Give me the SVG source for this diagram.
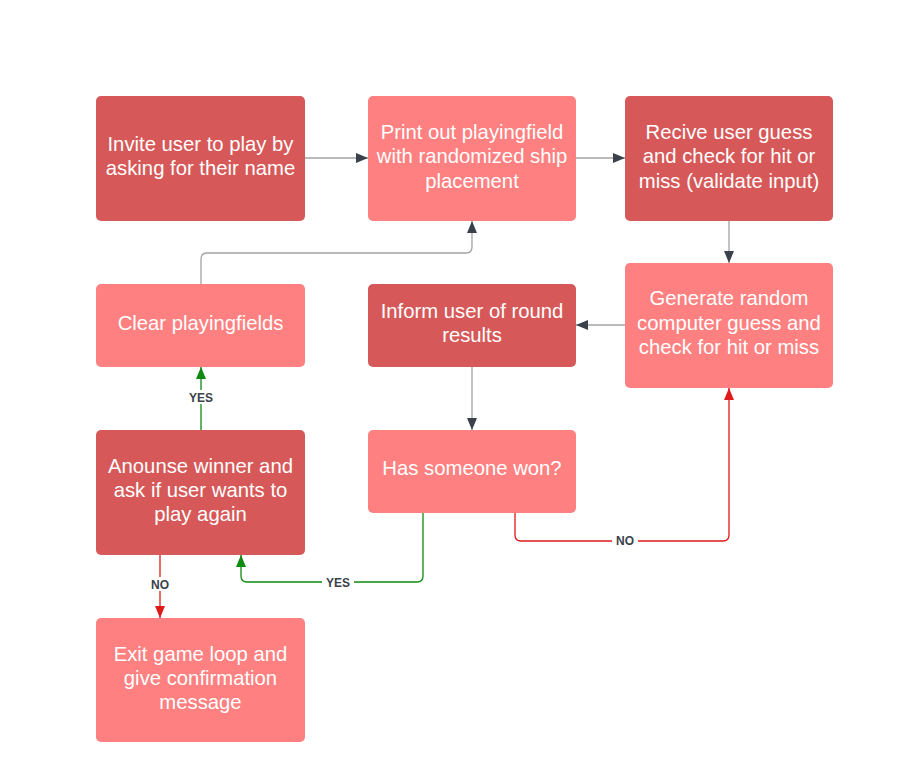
<svg xmlns="http://www.w3.org/2000/svg" width="903" height="772" viewBox="0 0 903 772">
<defs>
<style>
.dark{fill:#d75858}
.light{fill:#ff8080}
.t{font-family:"Liberation Sans",Arial,sans-serif;font-size:20.3px;fill:#ffffff;text-anchor:middle}
.c{fill:none;stroke-width:1.3}
.gray{stroke:#a3a3a3}
.green{stroke:#0e8a0e}
.red{stroke:#e01919}
.lbl{font-family:"Liberation Sans",Arial,sans-serif;font-size:12px;font-weight:bold;fill:#3a414a;text-anchor:middle}
</style>
<marker id="ag" viewBox="0 0 12 10" refX="12" refY="5" markerWidth="12" markerHeight="10" markerUnits="userSpaceOnUse" orient="auto"><path d="M0,0L12,5L0,10z" fill="#3a414a"/></marker>
<marker id="agr" viewBox="0 0 12 10" refX="12" refY="5" markerWidth="12" markerHeight="10" markerUnits="userSpaceOnUse" orient="auto"><path d="M0,0L12,5L0,10z" fill="#0e8a0e"/></marker>
<marker id="ar" viewBox="0 0 12 10" refX="12" refY="5" markerWidth="12" markerHeight="10" markerUnits="userSpaceOnUse" orient="auto"><path d="M0,0L12,5L0,10z" fill="#e01919"/></marker>
</defs>
<rect width="903" height="772" fill="#ffffff"/>
<g id="connectors">
<path class="c gray" d="M305,158H368" marker-end="url(#ag)"/>
<path class="c gray" d="M576,158H625" marker-end="url(#ag)"/>
<path class="c gray" d="M729,221V263" marker-end="url(#ag)"/>
<path class="c gray" d="M625,325H576" marker-end="url(#ag)"/>
<path class="c gray" d="M472,367V430" marker-end="url(#ag)"/>
<path class="c gray" d="M201,284V259Q201,253 207,253H466Q472,253 472,247V221" marker-end="url(#ag)"/>
<path class="c red" d="M515,513V535Q515,541 521,541H723Q729,541 729,535V388" marker-end="url(#ar)"/>
<rect x="612" y="533" width="26" height="14" fill="#ffffff"/>
<text class="lbl" x="625" y="544.5">NO</text>
<path class="c green" d="M423,513V576Q423,582 417,582H247Q241,582 241,576V555" marker-end="url(#agr)"/>
<rect x="322" y="575" width="32" height="14" fill="#ffffff"/>
<text class="lbl" x="338" y="586.5">YES</text>
<path class="c green" d="M201,430V367" marker-end="url(#agr)"/>
<rect x="185" y="390" width="32" height="14" fill="#ffffff"/>
<text class="lbl" x="201" y="401.5">YES</text>
<path class="c red" d="M160,555V618" marker-end="url(#ar)"/>
<rect x="147" y="577" width="26" height="14" fill="#ffffff"/>
<text class="lbl" x="160" y="588.5">NO</text>
</g>
<g id="invite">
<rect class="dark" x="96" y="96" width="209" height="125" rx="5"/>
<text class="t" x="200.5" y="151">Invite user to play by</text>
<text class="t" x="200.5" y="175">asking for their name</text>
</g>
<g id="print">
<rect class="light" x="368" y="96" width="208" height="125" rx="5"/>
<text class="t" x="472" y="139">Print out playingfield</text>
<text class="t" x="472" y="163">with randomized ship</text>
<text class="t" x="472" y="188">placement</text>
</g>
<g id="recive">
<rect class="dark" x="625" y="96" width="208" height="125" rx="5"/>
<text class="t" x="729" y="139">Recive user guess</text>
<text class="t" x="729" y="163">and check for hit or</text>
<text class="t" x="729" y="188">miss (validate input)</text>
</g>
<g id="generate">
<rect class="light" x="625" y="263" width="208" height="125" rx="5"/>
<text class="t" x="729" y="305">Generate random</text>
<text class="t" x="729" y="330">computer guess and</text>
<text class="t" x="729" y="354">check for hit or miss</text>
</g>
<g id="inform">
<rect class="dark" x="368" y="284" width="208" height="83" rx="5"/>
<text class="t" x="472" y="318">Inform user of round</text>
<text class="t" x="472" y="342">results</text>
</g>
<g id="clear">
<rect class="light" x="96" y="284" width="209" height="83" rx="5"/>
<text class="t" x="200.5" y="330">Clear playingfields</text>
</g>
<g id="anounse">
<rect class="dark" x="96" y="430" width="209" height="125" rx="5"/>
<text class="t" x="200.5" y="473">Anounse winner and</text>
<text class="t" x="200.5" y="497">ask if user wants to</text>
<text class="t" x="200.5" y="521">play again</text>
</g>
<g id="has-won">
<rect class="light" x="368" y="430" width="208" height="83" rx="5"/>
<text class="t" x="472" y="475">Has someone won?</text>
</g>
<g id="exit">
<rect class="light" x="96" y="618" width="209" height="124" rx="5"/>
<text class="t" x="200.5" y="661">Exit game loop and</text>
<text class="t" x="200.5" y="685">give confirmation</text>
<text class="t" x="200.5" y="709">message</text>
</g>
</svg>
